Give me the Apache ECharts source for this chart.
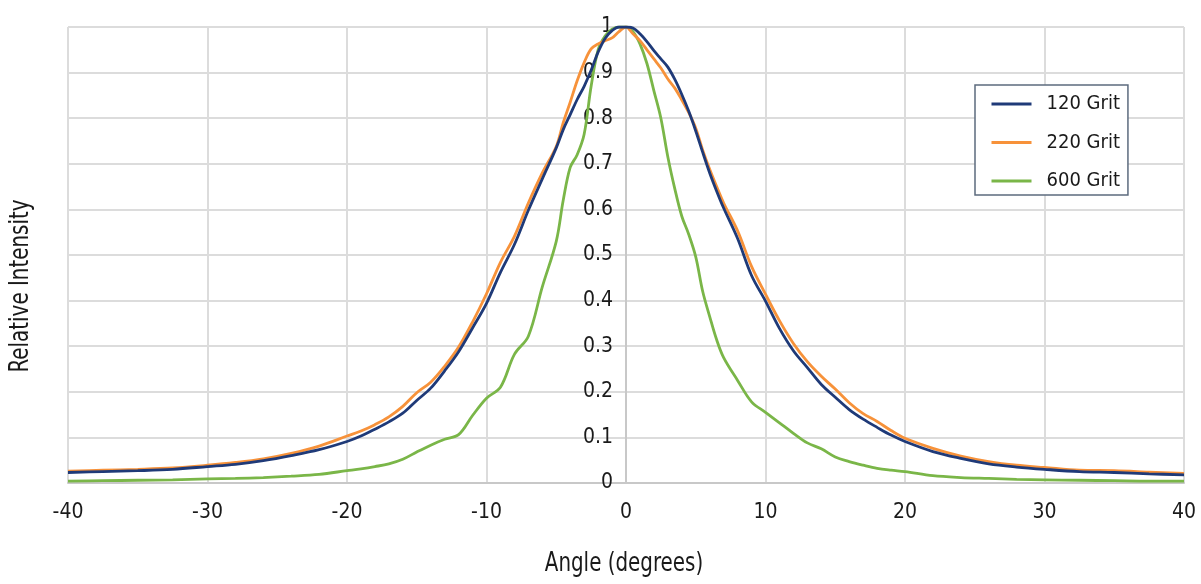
<!DOCTYPE html>
<html>
<head>
<meta charset="utf-8">
<script src="https://cdn.jsdelivr.net/npm/echarts@6/dist/echarts.min.js"></script>
<style>
html,body{margin:0;padding:0;background:#fff;}
#chart{width:1201px;height:584px;}
</style>
</head>
<body>
<div id="chart"></div>
<script>
var angles = [-40,-37.5,-35,-32.5,-30,-28,-26,-24,-22,-20,-19,-18,-17,-16,-15,-14,-13,-12,-11,-10,-9,-8,-7,-6,-5,-4.5,-4,-3.5,-3,-2.5,-2,-1.5,-1,-0.5,0,0.5,1,1.5,2,2.5,3,3.5,4,4.5,5,5.5,6,6.5,7,8,9,10,11,12,13,14,15,16,17,18,19,20,22,24,26,28,30,32.5,35,37.5,40];
var grit120 = [0.023,0.025,0.027,0.030,0.036,0.041,0.049,0.060,0.073,0.091,0.103,0.118,0.134,0.153,0.181,0.208,0.246,0.288,0.340,0.394,0.462,0.523,0.598,0.667,0.735,0.775,0.808,0.841,0.870,0.905,0.945,0.975,0.992,1.0,1.0,0.998,0.985,0.968,0.948,0.930,0.912,0.885,0.852,0.815,0.772,0.725,0.680,0.640,0.603,0.536,0.455,0.399,0.339,0.290,0.253,0.216,0.188,0.161,0.140,0.122,0.105,0.091,0.069,0.054,0.042,0.035,0.030,0.025,0.023,0.020,0.018];
var grit220 = [0.026,0.028,0.030,0.033,0.039,0.045,0.053,0.065,0.081,0.103,0.114,0.128,0.145,0.168,0.198,0.221,0.256,0.298,0.353,0.415,0.484,0.541,0.614,0.680,0.738,0.790,0.835,0.882,0.922,0.952,0.963,0.970,0.976,0.990,1.0,0.985,0.970,0.950,0.930,0.910,0.886,0.866,0.840,0.812,0.778,0.730,0.688,0.650,0.614,0.553,0.475,0.414,0.356,0.306,0.266,0.234,0.206,0.176,0.152,0.135,0.115,0.098,0.076,0.059,0.047,0.039,0.034,0.028,0.027,0.024,0.021];
var grit600 = [0.004,0.005,0.006,0.007,0.009,0.010,0.012,0.015,0.019,0.027,0.031,0.036,0.042,0.052,0.068,0.083,0.096,0.106,0.148,0.186,0.210,0.282,0.322,0.430,0.530,0.620,0.692,0.720,0.765,0.870,0.950,0.980,0.995,1.0,1.0,0.990,0.963,0.920,0.860,0.800,0.715,0.645,0.585,0.545,0.496,0.420,0.365,0.314,0.275,0.225,0.178,0.155,0.132,0.109,0.088,0.075,0.057,0.047,0.039,0.032,0.028,0.025,0.016,0.012,0.010,0.008,0.007,0.006,0.005,0.004,0.004];
var seriesNames = ['120 Grit','220 Grit','600 Grit'];
var seriesColors = ['#1f3a78','#f7923a','#7ab648'];
var xTitle = 'Angle (degrees)';
var yTitle = 'Relative Intensity';

var FONT = '"DejaVu Sans Condensed","DejaVu Sans",sans-serif';
function pairs(arr){ return angles.map(function(a,i){ return [a, arr[i]]; }); }
var seriesData = [grit120, grit220, grit600];
var GRID_LEFT = 68;

var chart = echarts.init(document.getElementById('chart'));
chart.setOption({
  animation:false,
  backgroundColor:'#ffffff',
  textStyle:{fontFamily:FONT},
  grid:{left:GRID_LEFT,right:17,top:27,bottom:101,containLabel:false},
  xAxis:{
    type:'value',min:-40,max:40,interval:10,
    axisLine:{show:true,onZero:false,lineStyle:{color:'#c8c8c8',width:2}},
    axisTick:{show:false},
    axisLabel:{color:'#1a1a1a',fontSize:21,fontFamily:FONT,margin:19},
    splitLine:{show:true,lineStyle:{color:'#dcdcdc',width:2}}
  },
  yAxis:{
    type:'value',min:0,max:1,interval:0.1,position:'left',
    axisLine:{show:true,onZero:true,lineStyle:{color:'#c8c8c8',width:2}},
    axisTick:{show:false},
    axisLabel:{color:'#1a1a1a',fontSize:21,fontFamily:FONT,margin:13,
      formatter:function(v){ return String(Math.round(v*10)/10); }},
    splitLine:{show:true,lineStyle:{color:'#dcdcdc',width:2}}
  },
  legend:{
    orient:'vertical',left:975,top:85,
    itemWidth:40,itemHeight:20,itemGap:18.5,
    padding:[9,8,4,15],
    backgroundColor:'#ffffff',
    borderColor:'#5c6b7e',borderWidth:1.5,borderRadius:0,
    itemStyle:{opacity:0},
    lineStyle:{width:3},
    textStyle:{color:'#1a1a1a',fontSize:20,fontFamily:FONT,padding:[0,0,0,10]},
    data:seriesNames
  },
  graphic:[
    {type:'text',x:624,y:564,scaleX:0.85,style:{text:xTitle,fontSize:26,fontFamily:FONT,fill:'#1a1a1a',align:'center',verticalAlign:'middle'}},
    {type:'text',x:21,y:286,scaleX:0.85,rotation:Math.PI/2,style:{text:yTitle,fontSize:26,fontFamily:FONT,fill:'#1a1a1a',align:'center',verticalAlign:'middle'}}
  ],
  series:seriesData.map(function(d,i){
    return {
      name:seriesNames[i],type:'line',data:pairs(d),
      smooth:0.35,symbol:'none',showSymbol:false,
      lineStyle:{color:seriesColors[i],width:2.8},
      itemStyle:{color:seriesColors[i]},
      z:3-i
    };
  })
});
// place the y axis on x = 0 using the x axis scale
var zeroPx = chart.convertToPixel({xAxisIndex:0}, 0);
chart.setOption({yAxis:{offset:-(zeroPx - GRID_LEFT)}});
</script>
</body>
</html>
